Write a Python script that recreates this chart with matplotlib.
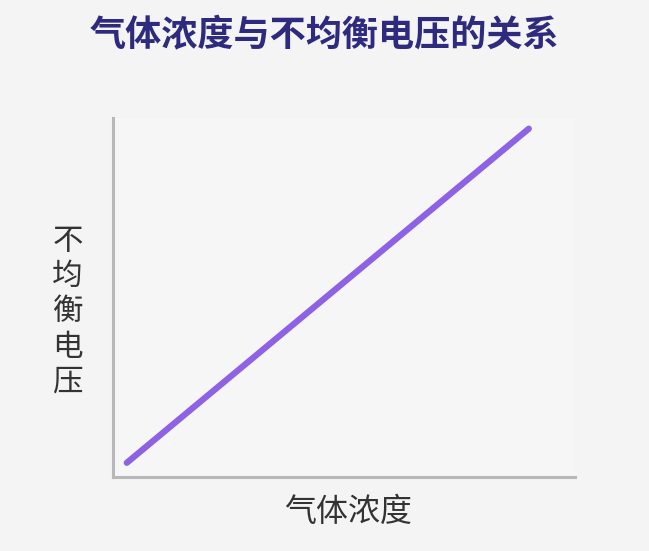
import matplotlib
matplotlib.use("Agg")
import matplotlib.pyplot as plt

# data: gas concentration vs unbalanced voltage (straight proportional line)
gas_conc = [0.3, 9.0]
unbal_voltage = [0.4, 9.7]

title_text = "气体浓度与不均衡电压的关系"
x_label = "气体浓度"
y_label = "不均衡电压"

plt.rcParams['font.family'] = ['Noto Sans CJK SC', 'DejaVu Sans']

fig = plt.figure(figsize=(6.49, 5.51), dpi=100, facecolor="#f4f4f4")
ax = fig.add_axes([0.174, 0.134, 0.712, 0.652])
ax.set_facecolor("#f6f6f6")

ax.plot(gas_conc, unbal_voltage, color="#8d62e4", linewidth=4.5, solid_capstyle="round")
ax.set_xlim(0, 10)
ax.set_ylim(0, 10)

for side in ["top", "right"]:
    ax.spines[side].set_visible(False)
for side in ["left", "bottom"]:
    ax.spines[side].set_color("#b8b8b8")
    ax.spines[side].set_linewidth(2.2)
ax.set_xticks([])
ax.set_yticks([])

fig.text(0.5, 0.935, title_text, ha="center", va="center", fontsize=26,
         fontweight="bold", color="#2e2a7e")
fig.text(0.536, 0.07, x_label, ha="center", va="center", fontsize=23, color="#333333")
fig.text(0.104, 0.434, "\n".join(y_label), ha="center", va="center", fontsize=22,
         color="#333333", linespacing=1.18)

fig.savefig("out.png", dpi=100, facecolor=fig.get_facecolor())
